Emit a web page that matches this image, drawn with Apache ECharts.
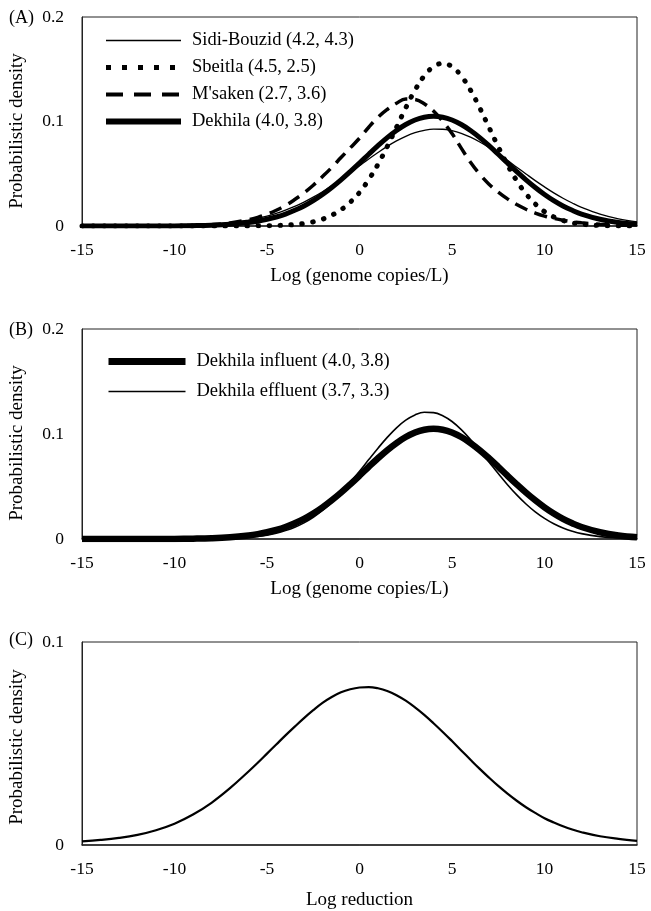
<!DOCTYPE html>
<html>
<head>
<meta charset="utf-8">
<script src="https://cdn.jsdelivr.net/npm/echarts@6/dist/echarts.min.js"></script>
<style>
  html, body { margin: 0; padding: 0; background: #fff; }
  #chart { width: 651px; height: 911px; }
</style>
</head>
<body>
<div id="chart"></div>
<script>
const xs = [-15, -14, -13, -12, -11, -10, -9, -8, -7,
  -6, -5.5, -5, -4.5, -4, -3.5, -3, -2.5, -2, -1.5, -1, -0.5,
  0, 0.5, 1, 1.5, 2, 2.5, 3, 3.5, 4, 4.5, 5, 5.5,
  6, 6.5, 7, 7.5, 8, 8.5, 9, 9.5, 10, 10.5, 11, 11.5, 12,
  13, 14, 15];

// panel A
const sidiBouzid = [0, 0, 0, 0.0001, 0.0002, 0.0004, 0.0008, 0.0017, 0.0031,
  0.0056, 0.0073, 0.0094, 0.0120, 0.0151, 0.0187, 0.0229, 0.0276, 0.0328, 0.0385, 0.0447, 0.0511,
  0.0576, 0.0641, 0.0703, 0.0762, 0.0814, 0.0858, 0.0893, 0.0916, 0.0927, 0.0926, 0.0912, 0.0887,
  0.0850, 0.0804, 0.0751, 0.0691, 0.0628, 0.0563, 0.0498, 0.0434, 0.0374, 0.0317, 0.0266, 0.0220, 0.0179,
  0.0114, 0.0069, 0.0040];
const sbeitla = [0, 0, 0, 0, 0, 0, 0, 0, 0,
  0.0001, 0.0002, 0.0003, 0.0005, 0.0008, 0.0014, 0.0024, 0.0040, 0.0065, 0.0103, 0.0155, 0.0228,
  0.0320, 0.0445, 0.0590, 0.0760, 0.0945, 0.1130, 0.1300, 0.1436, 0.1525, 0.1556, 0.1525, 0.1436,
  0.1300, 0.1130, 0.0944, 0.0758, 0.0584, 0.0433, 0.0308, 0.0211, 0.0138, 0.0087, 0.0053, 0.0031, 0.0017,
  0.0005, 0.0001, 0];
const msaken = [0, 0, 0, 0, 0.0001, 0.0002, 0.0006, 0.0013, 0.0029,
  0.0060, 0.0083, 0.0113, 0.0151, 0.0196, 0.0253, 0.0317, 0.0390, 0.0473, 0.0560, 0.0655, 0.0748,
  0.0840, 0.0945, 0.1040, 0.1115, 0.1175, 0.1215, 0.1210, 0.1170, 0.1100, 0.1000, 0.0885, 0.0745,
  0.0610, 0.0495, 0.0400, 0.0325, 0.0260, 0.0205, 0.0160, 0.0124, 0.0095, 0.0073, 0.0055, 0.0041, 0.0030,
  0.0016, 0.0008, 0.0004];
const dekhila = [0, 0, 0, 0, 0, 0.0001, 0.0003, 0.0007, 0.0016,
  0.0033, 0.0046, 0.0064, 0.0086, 0.0114, 0.0150, 0.0192, 0.0243, 0.0302, 0.0369, 0.0442, 0.0521,
  0.0603, 0.0687, 0.0769, 0.0846, 0.0914, 0.0971, 0.1014, 0.1041, 0.1050, 0.1041, 0.1014, 0.0971,
  0.0914, 0.0846, 0.0769, 0.0687, 0.0603, 0.0521, 0.0442, 0.0369, 0.0302, 0.0243, 0.0192, 0.0150, 0.0114,
  0.0064, 0.0033, 0.0016];

// panel B
const dekhilaInfluent = [0, 0, 0, 0, 0, 0.0001, 0.0003, 0.0007, 0.0016,
  0.0033, 0.0046, 0.0064, 0.0086, 0.0114, 0.0150, 0.0192, 0.0243, 0.0302, 0.0369, 0.0442, 0.0521,
  0.0603, 0.0687, 0.0769, 0.0846, 0.0914, 0.0971, 0.1014, 0.1041, 0.1050, 0.1041, 0.1014, 0.0971,
  0.0914, 0.0846, 0.0769, 0.0687, 0.0603, 0.0521, 0.0442, 0.0369, 0.0302, 0.0243, 0.0192, 0.0150, 0.0114,
  0.0064, 0.0033, 0.0016];
const dekhilaEffluent = [0, 0, 0, 0, 0, 0, 0.0001, 0.0002, 0.0006,
  0.0016, 0.0025, 0.0037, 0.0055, 0.0080, 0.0112, 0.0154, 0.0207, 0.0272, 0.0349, 0.0439, 0.0538,
  0.0645, 0.0756, 0.0865, 0.0968, 0.1059, 0.1132, 0.1182, 0.1207, 0.1204, 0.1174, 0.1119, 0.1042,
  0.0948, 0.0843, 0.0733, 0.0623, 0.0517, 0.0420, 0.0333, 0.0258, 0.0196, 0.0145, 0.0105, 0.0074, 0.0051,
  0.0023, 0.0009, 0.0003];

// panel C
const logReduction = [0.0018, 0.0025, 0.0035, 0.0050, 0.0073, 0.0105, 0.0150, 0.0208, 0.0280,
  0.0362, 0.0405, 0.0450, 0.0495, 0.0540, 0.0583, 0.0625, 0.0664, 0.0700, 0.0729, 0.0752, 0.0767,
  0.0776, 0.0778, 0.0772, 0.0759, 0.0738, 0.0711, 0.0678, 0.0641, 0.0600, 0.0557, 0.0512, 0.0466,
  0.0420, 0.0375, 0.0332, 0.0291, 0.0253, 0.0218, 0.0186, 0.0158, 0.0132, 0.0111, 0.0092, 0.0076, 0.0063,
  0.0043, 0.0030, 0.0020];

const names = {
  sidi: 'Sidi-Bouzid (4.2, 4.3)',
  sbeitla: 'Sbeitla (4.5, 2.5)',
  msaken: "M'saken (2.7, 3.6)",
  dekhila: 'Dekhila (4.0, 3.8)',
  inf: 'Dekhila influent (4.0, 3.8)',
  eff: 'Dekhila effluent (3.7, 3.3)'
};

const FONT = '"Liberation Serif", "Times New Roman", serif';
const pairs = arr => xs.map((x, i) => [x, arr[i]]);

const grids = [
  { left: 82, top: 17, width: 555, height: 209 },
  { left: 82, top: 329, width: 555, height: 210 },
  { left: 82, top: 642, width: 555, height: 206 }
].map(g => Object.assign(g, { show: true, borderColor: '#222', borderWidth: 1, containLabel: false }));

const xAxisFor = (idx, name, gap) => ({
  gridIndex: idx,
  type: 'value',
  min: -15, max: 15, interval: 5,
  name: name,
  nameLocation: 'middle',
  nameGap: gap,
  nameTextStyle: { fontFamily: FONT, fontSize: 19, color: '#000' },
  axisLine: { show: true, onZero: false, lineStyle: { color: '#222', width: 1.5 } },
  axisTick: { show: false },
  splitLine: { show: false },
  axisLabel: { margin: 15, fontFamily: FONT, fontSize: 17.5, color: '#000' }
});

const yAxisFor = (idx, max) => ({
  gridIndex: idx,
  type: 'value',
  min: 0, max: max, interval: 0.1,
  axisLine: { show: true, onZero: false, lineStyle: { color: '#222', width: 1 } },
  axisTick: { show: false },
  splitLine: { show: false },
  axisLabel: { margin: 18, fontFamily: FONT, fontSize: 17.5, color: '#000' }
});

const line = (name, arr, idx, style, z) => ({
  name: name,
  type: 'line',
  xAxisIndex: idx,
  yAxisIndex: idx,
  data: pairs(arr),
  smooth: 0.4,
  symbol: 'none',
  z: z,
  lineStyle: Object.assign({ color: '#000' }, style),
  itemStyle: { color: '#000' }
});

const chart = echarts.init(document.getElementById('chart'));

const legendBase = {
  orient: 'vertical',
  padding: 0,
  itemHeight: 12,
  itemGap: 8,
  itemStyle: { opacity: 0 },
  textStyle: { fontFamily: FONT, fontSize: 18.5, color: '#000', lineHeight: 18, padding: [0, 0, 0, 6] },
  selectedMode: false
};

const yTitle = (y) => ({
  type: 'text',
  x: 17, y: y,
  rotation: Math.PI / 2,
  style: { text: 'Probabilistic density', font: '19px ' + FONT, fill: '#000', align: 'center', verticalAlign: 'middle' }
});
const letter = (txt, y) => ({
  type: 'text',
  x: 9, y: y,
  style: { text: txt, font: '18px ' + FONT, fill: '#000', align: 'left', verticalAlign: 'middle' }
});

chart.setOption({
  animation: false,
  backgroundColor: '#fff',
  grid: grids,
  xAxis: [
    xAxisFor(0, 'Log (genome copies/L)', 41),
    xAxisFor(1, 'Log (genome copies/L)', 41),
    xAxisFor(2, 'Log reduction', 46)
  ],
  yAxis: [yAxisFor(0, 0.2), yAxisFor(1, 0.2), yAxisFor(2, 0.1)],
  legend: [
    Object.assign({}, legendBase, {
      left: 103, top: 31, itemWidth: 75,
      data: [
        { name: names.sidi, lineStyle: { width: 1.5, type: 'solid' } },
        { name: names.sbeitla, lineStyle: { width: 5, type: [5, 11], cap: 'butt' } },
        { name: names.msaken, lineStyle: { width: 4, type: [17, 11], cap: 'butt' } },
        { name: names.dekhila, lineStyle: { width: 6, type: 'solid' } }
      ]
    }),
    Object.assign({}, legendBase, {
      left: 105, top: 352, itemWidth: 77, itemGap: 11,
      data: [
        { name: names.inf, lineStyle: { width: 7, type: 'solid' } },
        { name: names.eff, lineStyle: { width: 1.5, type: 'solid' } }
      ]
    })
  ],
  graphic: [
    letter('(A)', 18), letter('(B)', 330), letter('(C)', 640),
    yTitle(131), yTitle(443), yTitle(747)
  ],
  series: [
    line(names.sidi, sidiBouzid, 0, { width: 1.3 }, 4),
    line(names.sbeitla, sbeitla, 0, { width: 5, type: [0.5, 10.5], cap: 'round' }, 5),
    line(names.msaken, msaken, 0, { width: 3.5, type: [13, 8], cap: 'butt' }, 3),
    line(names.dekhila, dekhila, 0, { width: 5 }, 2),
    line(names.inf, dekhilaInfluent, 1, { width: 6.5 }, 2),
    line(names.eff, dekhilaEffluent, 1, { width: 1.6 }, 3),
    line('Log reduction', logReduction, 2, { width: 2.2 }, 2)
  ]
});

window.addEventListener('resize', () => chart.resize());
</script>
</body>
</html>
